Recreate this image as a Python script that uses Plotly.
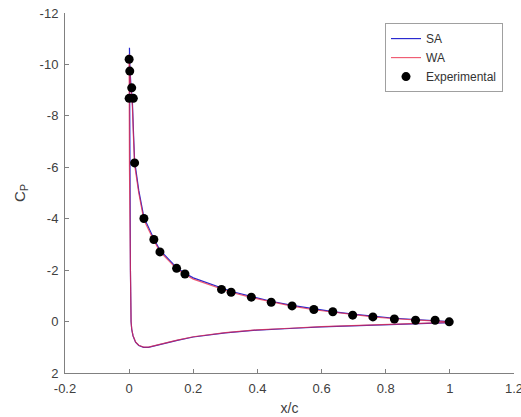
import plotly.graph_objects as go

# Experimental data (x/c, Cp)
exp_x = [0.0, 0.002, 0.008, 0.0, 0.013, 0.017, 0.046, 0.077, 0.096, 0.148, 0.174,
         0.288, 0.318, 0.381, 0.443, 0.508, 0.576, 0.635, 0.697, 0.76, 0.827,
         0.893, 0.954, 0.998]
exp_cp = [-10.2, -9.74, -9.09, -8.68, -8.68, -6.17, -4.01, -3.19, -2.71, -2.07, -1.85,
          -1.25, -1.14, -0.95, -0.75, -0.61, -0.47, -0.38, -0.25, -0.18, -0.10,
          -0.05, -0.05, 0.01]

# SA: lower surface (TE -> LE) then upper surface (LE -> TE)
sa_x = [1.0, 0.9, 0.8, 0.7, 0.6, 0.5, 0.4, 0.3, 0.2, 0.15, 0.1, 0.08, 0.06, 0.045,
        0.03, 0.02, 0.012, 0.008, 0.006, 0.004, 0.003, 0.002, 0.0015, 0.001,
        0.002, 0.005, 0.01, 0.014, 0.017, 0.03, 0.046, 0.077, 0.096, 0.148, 0.174,
        0.2, 0.29, 0.32, 0.38, 0.443, 0.508, 0.576, 0.635, 0.697, 0.76, 0.827,
        0.893, 0.954, 1.0]
sa_cp = [0.04, 0.08, 0.12, 0.17, 0.21, 0.27, 0.33, 0.44, 0.6, 0.73, 0.88, 0.95, 1.0, 1.0,
         0.93, 0.8, 0.55, 0.3, 0.0, -2.0, -4.0, -6.0, -8.0, -10.65,
         -10.0, -9.3, -8.6, -7.2, -6.25, -5.1, -4.05, -3.22, -2.78, -2.1, -1.88,
         -1.7, -1.28, -1.17, -0.98, -0.79, -0.63, -0.49, -0.39, -0.29, -0.2, -0.13,
         -0.08, -0.04, 0.0]

# WA
wa_x = [1.0, 0.9, 0.8, 0.7, 0.6, 0.5, 0.4, 0.3, 0.2, 0.15, 0.1, 0.08, 0.06, 0.045,
        0.03, 0.02, 0.012, 0.008, 0.006, 0.004, 0.002, 0.001, 0.0005, 0.0,
        0.002, 0.005, 0.01, 0.014, 0.017, 0.03, 0.046, 0.077, 0.096, 0.148, 0.174,
        0.2, 0.29, 0.32, 0.38, 0.443, 0.508, 0.576, 0.635, 0.697, 0.76, 0.827,
        0.893, 0.954, 1.0]
wa_cp = [0.03, 0.07, 0.11, 0.16, 0.2, 0.26, 0.32, 0.43, 0.59, 0.72, 0.87, 0.94, 0.99, 0.99,
         0.92, 0.79, 0.54, 0.29, 0.0, -2.0, -4.0, -6.0, -8.0, -10.4,
         -9.8, -9.1, -8.4, -7.0, -6.1, -5.0, -3.95, -3.15, -2.72, -2.05, -1.83,
         -1.65, -1.24, -1.13, -0.94, -0.76, -0.6, -0.46, -0.37, -0.27, -0.18, -0.11,
         -0.06, -0.03, 0.01]

x_ticks = [-0.2, 0, 0.2, 0.4, 0.6, 0.8, 1, 1.2]
x_tick_text = ["-0.2", "0", "0.2", "0.4", "0.6", "0.8", "1", "1.2"]
y_ticks = [-12, -10, -8, -6, -4, -2, 0, 2]
y_tick_text = ["-12", "-10", "-8", "-6", "-4", "-2", "0", "2"]

font_family = "Liberation Sans, Arial, sans-serif"
axis_col = "#808080"
text_col = "#404040"
tick_font = dict(family=font_family, size=13, color=text_col)

fig = go.Figure()
fig.add_trace(go.Scatter(x=sa_x, y=sa_cp, mode="lines", name="SA",
                         line=dict(color="#2a2ad0", width=1.2)))
fig.add_trace(go.Scatter(x=wa_x, y=wa_cp, mode="lines", name="WA",
                         line=dict(color="rgba(235,40,70,0.75)", width=1.2)))
fig.add_trace(go.Scatter(x=exp_x, y=exp_cp, mode="markers", name="Experimental",
                         marker=dict(color="black", size=9)))

fig.update_layout(
    width=521, height=417,
    margin=dict(l=65, r=7, t=13, b=44, autoexpand=False),
    paper_bgcolor="white", plot_bgcolor="white",
    font=dict(family=font_family, size=13, color=text_col),
    showlegend=True,
    legend=dict(x=0.9755, y=0.972, xanchor="right", yanchor="top",
                bgcolor="white", bordercolor="#a0a0a0", borderwidth=1,
                font=dict(family=font_family, size=12, color="#333333"),
                tracegroupgap=0, itemwidth=30),
    xaxis=dict(range=[-0.2000001, 1.2000001], tickvals=x_ticks, ticktext=x_tick_text,
               tickfont=tick_font, ticklabeloverflow="allow", automargin=False,
               showline=True, linecolor=axis_col, linewidth=1,
               ticks="inside", ticklen=4, tickcolor=axis_col,
               showgrid=False, zeroline=False, ticklabelstandoff=3,
               title=dict(text="x/c", standoff=8, font=dict(family=font_family, size=14, color=text_col))),
    yaxis=dict(range=[2.0000001, -12.0000001], tickvals=y_ticks, ticktext=y_tick_text,
               tickfont=tick_font, ticklabeloverflow="allow", automargin=False,
               showline=True, linecolor=axis_col, linewidth=1,
               ticks="inside", ticklen=4, tickcolor=axis_col,
               showgrid=False, zeroline=False, ticklabelstandoff=3,
               title=dict(text="C<sub>P</sub>", standoff=10, font=dict(family=font_family, size=15, color=text_col))),
)

fig.write_html("out.html")
